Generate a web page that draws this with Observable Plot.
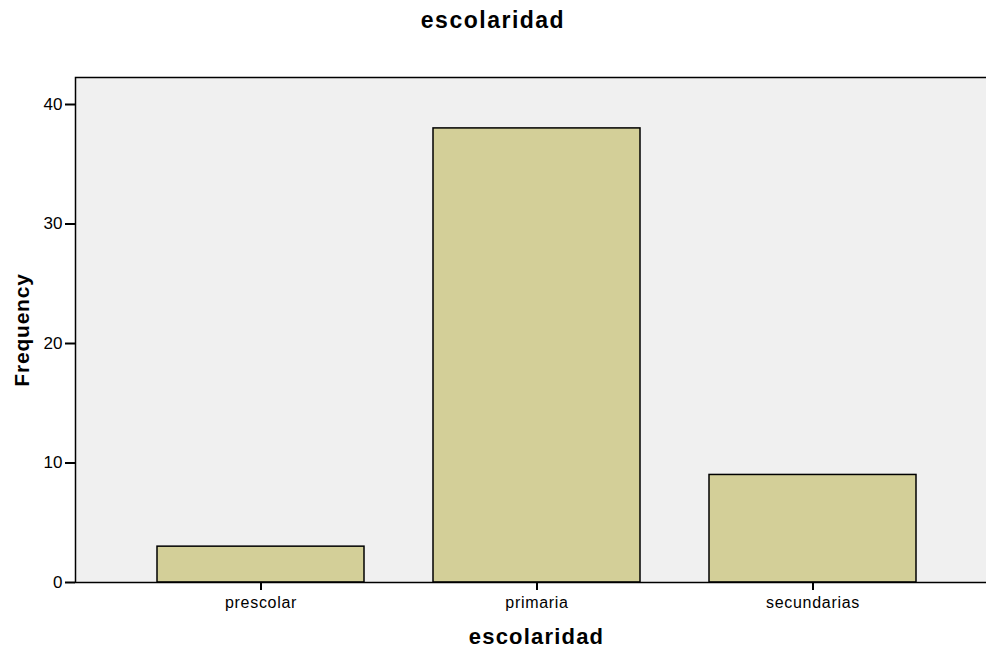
<!DOCTYPE html>
<html>
<head>
<meta charset="utf-8">
<script src="https://cdn.jsdelivr.net/npm/d3@7"></script>
<script src="https://cdn.jsdelivr.net/npm/@observablehq/plot@0.6"></script>
<style>
  html, body { margin: 0; padding: 0; background: white; overflow: hidden; }
  body { width: 986px; height: 648px; font-family: "Liberation Sans", Arial, sans-serif; }
  #title { height: 50px; text-align: center; font-weight: bold; font-size: 23px; letter-spacing: 1.5px; line-height: 40px; color: #000; }
  #chart svg { overflow: hidden; }
  .xticks text { letter-spacing: 0.7px; }
</style>
</head>
<body>
<div id="title">escolaridad</div>
<div id="chart"></div>
<script>
const categories = ["prescolar", "primaria", "secundarias"];
const frequencies = [3, 38, 9];
const yTicks = [0, 10, 20, 30, 40];
const xLabel = "escolaridad";
const yLabel = "Frequency";

const data = categories.map((c, i) => ({category: c, frequency: frequencies[i]}));

const chart = Plot.plot({
  width: 986,
  height: 598,
  marginTop: 27,
  marginBottom: 66,
  marginLeft: 75,
  marginRight: -11,
  style: {fontFamily: "'Liberation Sans', Arial, sans-serif", background: "white", color: "#000"},
  x: {domain: categories, paddingInner: 0.25, paddingOuter: 0.292, label: null},
  y: {domain: [0, 42.26], label: null},
  marks: [
    Plot.frame({fill: "#f0f0f0", stroke: null}),
    Plot.barY(data, {x: "category", y: "frequency", fill: "#d3cf98", stroke: "#000", strokeWidth: 1.5}),
    Plot.frame({stroke: "#000", strokeWidth: 1.5}),
    Plot.axisY({ticks: yTicks, tickSize: 10, tickPadding: 3, fontSize: 17, tickFormat: d => String(d), label: null, stroke: "#000", strokeWidth: 2}),
    Plot.axisX({tickSize: 8, tickPadding: 6, fontSize: 16, label: null, stroke: "#000", strokeWidth: 2, className: "xticks"}),
    Plot.text([yLabel], {frameAnchor: "left", dx: -53, rotate: -90, text: d => d, fontSize: 21, fontWeight: "bold", textAnchor: "middle", lineAnchor: "middle", fill: "#000", style: "letter-spacing:0.8px"}),
    Plot.text([xLabel], {frameAnchor: "bottom", dy: 54, text: d => d, fontSize: 22, fontWeight: "bold", textAnchor: "middle", lineAnchor: "middle", fill: "#000"})
  ]
});
chart.querySelectorAll("text").forEach(t => {
  if (t.textContent === xLabel) t.setAttribute("letter-spacing", "1.2");
  if (t.textContent === yLabel) t.setAttribute("letter-spacing", "0.8");
});
document.getElementById("chart").appendChild(chart);
</script>
</body>
</html>
